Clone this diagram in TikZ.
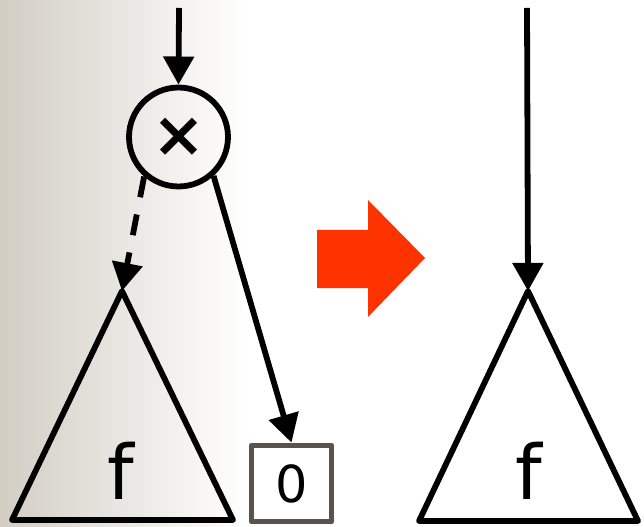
\documentclass[tikz,border=0pt]{standalone}
\usepackage{fontspec}
\setmainfont{DejaVu Sans}
\usetikzlibrary{arrows.meta}

\definecolor{bggray}{HTML}{D2CEC4}
\definecolor{boxgray}{HTML}{5B5249}
\definecolor{redarrow}{HTML}{FF3300}

\begin{document}
\begin{tikzpicture}[>={Triangle[length=16pt,width=17pt]},line width=3.3pt,
                    x=0.02cm,y=-0.02cm,line join=round,
                    var/.style={circle,draw,inner sep=0pt,minimum size=1.98cm,
                                font=\bfseries\fontsize{36}{36}\selectfont},
                    leaf/.style={rectangle,draw=boxgray,inner sep=0pt,
                                 minimum width=1.6cm,minimum height=1.52cm,
                                 font=\fontsize{29}{29}\selectfont},
                    func/.style={inner sep=0pt,font=\fontsize{43}{43}\selectfont},
                    link/.style={->,shorten >=0pt}]
  % shaded panel on the left
  \shade[left color=bggray,right color=white] (0,0) rectangle (245,526);
  \useasboundingbox (0,0) rectangle (644,526);

  % before: node x with the 0-branch
  \coordinate (in)  at (179,8);
  \coordinate (fl)  at (122,291);
  \node[var]  (X)   at (178.5,137) {×};
  \node[leaf] (Z)   at (291.5,483.5) {0};
  \node[func] (Fl)  at (121,471) {f};
  \draw (fl) -- (233,520) -- (12,520) -- cycle;

  \path (in)   edge [link]        (X.north)
        (X.229) edge [link,dash pattern=on 12pt off 10pt] (fl)
        (X.-48) edge [link]       (Z.north);

  % reduction arrow
  \fill[redarrow] (317,230) -- (368,230) -- (368,200) -- (425,258)
                  -- (368,317) -- (368,288) -- (317,288) -- cycle;

  % after: only f remains
  \coordinate (in2) at (527,8);
  \coordinate (fr)  at (528,291);
  \node[func] (Fr)  at (529,471) {f};
  \draw (fr) -- (638,521) -- (419,521) -- cycle;

  \path (in2) edge [link] (fr);
\end{tikzpicture}
\end{document}
